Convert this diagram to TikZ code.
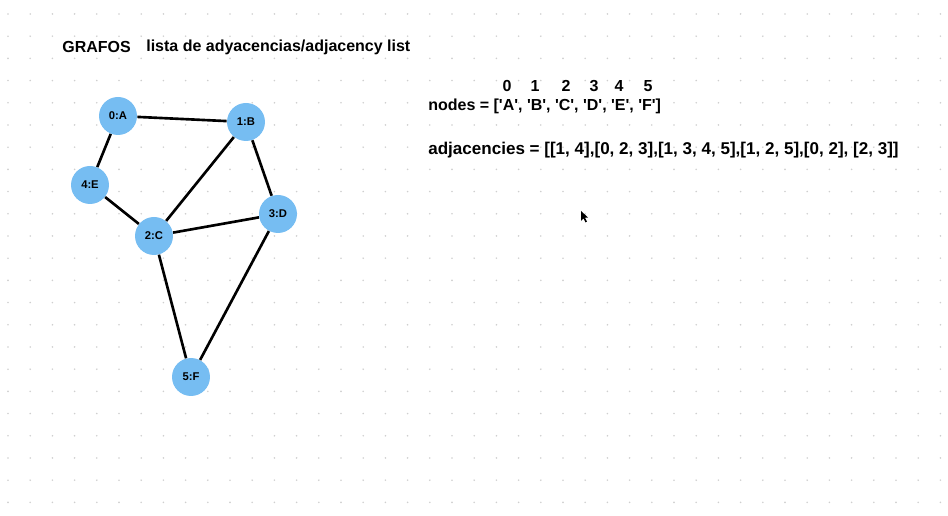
\documentclass[tikz,border=0pt]{standalone}
\usepackage{fontspec}
\setsansfont{Liberation Sans}
\usepackage{xcolor}
\usetikzlibrary{positioning}

\definecolor{nodeblue}{HTML}{76BDF2}
\definecolor{griddot}{HTML}{CFCFCF}
\newcommand{\q}{\textquotesingle}

\begin{document}
\begin{tikzpicture}[
  x=0.02cm, y=-0.02cm,
  vertex/.style={circle, fill=nodeblue, minimum size=0.76cm, inner sep=0pt, font=\sffamily\bfseries\fontsize{6.4}{7}\selectfont},
  edge/.style={line width=1.5pt},
  txt/.style={anchor=west, inner sep=0pt, font=\sffamily\bfseries\fontsize{9.1}{10}\selectfont}
]
  \useasboundingbox (0,0) rectangle (948,516);
  % dotted background
  \foreach \i in {0,...,42}
    \foreach \j in {0,...,22}
      \fill[griddot] (8+22.2*\i, 14+22.2*\j) circle (0.9);

  % titles
  \node[txt] (title) at (62,47) {GRAFOS};
  \node[txt] (subtitle) at (146,47) {lista de adyacencias/adjacency list};

  % graph
  \node[vertex] (a) at (118,116) {0:A};
  \node[vertex] (b) at (246,122) {1:B};
  \node[vertex] (c) at (154,236) {2:C};
  \node[vertex] (d) at (278,214) {3:D};
  \node[vertex] (e) at (90,185) {4:E};
  \node[vertex] (f) at (191,377) {5:F};
  \foreach \u/\v in {a/b, a/e, e/c, c/b, c/d, b/d, c/f, d/f}
    \draw[edge] (\u) -- (\v);

  % lists
  \node[txt] (nodes) at (428,106) {nodes = [\q A\q, \q B\q, \q C\q, \q D\q, \q E\q, \q F\q]};
  \foreach \k/\xk in {0/507, 1/535, 2/566, 3/594, 4/619, 5/648}
    \node[txt, anchor=center] (idx\k) at (\xk,86) {\k};
  \node[txt, font=\sffamily\bfseries\fontsize{9.7}{11}\selectfont] (adj) at (428,150) {adjacencies = [[1, 4],[0, 2, 3],[1, 3, 4, 5],[1, 2, 5],[0, 2], [2, 3]]};

  % cursor
  \fill[black] (581,211) -- (581,221) -- (583.5,218.5) -- (585.5,222.5) -- (587,221.5) -- (585,217.8) -- (588,217.5) -- cycle;
\end{tikzpicture}
\end{document}
